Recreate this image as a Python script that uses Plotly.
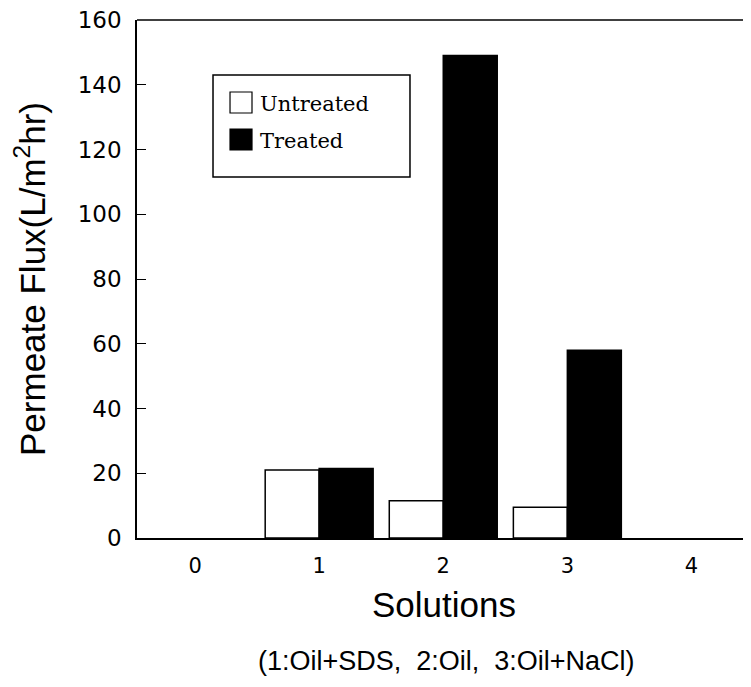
import plotly.graph_objects as go

solutions = [1, 2, 3]
untreated = [21.0, 11.5, 9.5]
treated = [21.5, 149.0, 58.0]
y_ticks = [0, 20, 40, 60, 80, 100, 120, 140, 160]
x_ticks = [0, 1, 2, 3, 4]
series_names = ["Untreated", "Treated"]
series_fill = ["white", "black"]

fig = go.Figure()
fig.add_trace(go.Bar(x=solutions, y=untreated, name=series_names[0], showlegend=False,
                     marker=dict(color=series_fill[0], line=dict(color="black", width=1.5))))
fig.add_trace(go.Bar(x=solutions, y=treated, name=series_names[1], showlegend=False,
                     marker=dict(color=series_fill[1], line=dict(color="black", width=1.5))))

# page body has an 8px margin, so the figure is drawn 8px in from the window edge
fig.update_layout(
    width=743, height=679,
    margin=dict(l=129, r=0, t=12, b=149),
    paper_bgcolor="white", plot_bgcolor="white",
    barmode="group", bargap=0.13, bargroupgap=0,
    showlegend=False,
    font=dict(family="Liberation Sans", color="black"),
)
fig.update_xaxes(range=[-0.468, 4.48], tickmode="array", tickvals=x_ticks,
                 ticks="", showgrid=False, zeroline=False, automargin=False,
                 showline=True, linecolor="black", linewidth=1.5, mirror=False,
                 ticklabelstandoff=8, ticklabeloverflow="allow",
                 tickfont=dict(family="DejaVu Sans", size=21, color="black"),
                 title=dict(text="Solutions", font=dict(family="Liberation Sans", size=35, color="black"), standoff=16))
fig.update_yaxes(range=[0, 160], tickmode="array", tickvals=y_ticks,
                 ticks="inside", ticklen=9, tickcolor="black", tickwidth=1,
                 showgrid=False, zeroline=False, automargin=False,
                 showline=True, linecolor="black", linewidth=1.5, mirror=False,
                 ticklabelstandoff=9, ticklabeloverflow="allow",
                 tickfont=dict(family="DejaVu Sans", size=23, color="black"),
                 title=dict(text="Permeate Flux(L/m<sup>2</sup>hr)", font=dict(family="Liberation Sans", size=35, color="black"), standoff=34))
# top border line
fig.add_shape(type="line", xref="paper", yref="paper", x0=0, x1=1, y0=1, y1=1,
              line=dict(color="black", width=1.5))

# legend box (drawn in paper coordinates)
fig.add_shape(type="rect", xref="paper", yref="paper", x0=0.1238, x1=0.4446, y0=0.6969, y1=0.8938,
              line=dict(color="black", width=1.5), fillcolor="white", layer="above")
legend_rows = [(0.8205, 0.861, 0.837), (0.749, 0.7896, 0.766)]
for name, fill, (y0, y1, yt) in zip(series_names, series_fill, legend_rows):
    fig.add_shape(type="rect", xref="paper", yref="paper", x0=0.1515, x1=0.1873, y0=y0, y1=y1,
                  line=dict(color="black", width=1.2), fillcolor=fill, layer="above")
    fig.add_annotation(text=name, xref="paper", yref="paper", x=0.197, y=yt,
                       xanchor="left", yanchor="middle", showarrow=False,
                       font=dict(family="DejaVu Serif", size=21, color="black"))

fig.add_annotation(text="(1:Oil+SDS,  2:Oil,  3:Oil+NaCl)", xref="paper", yref="paper",
                   x=0.504, y=-0.237, xanchor="center", yanchor="middle", showarrow=False,
                   font=dict(family="Liberation Sans", size=27, color="black"))

fig.write_html("out.html")
